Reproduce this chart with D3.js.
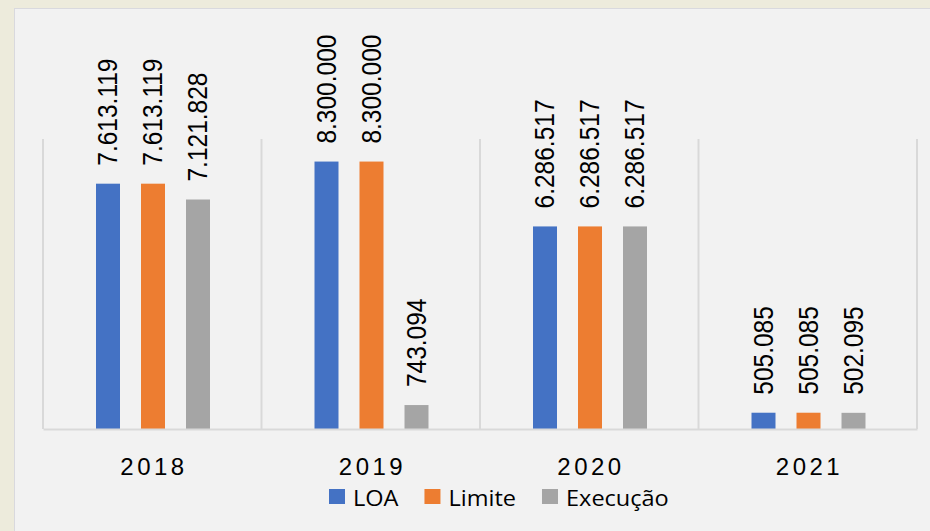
<!DOCTYPE html>
<html><head><meta charset="utf-8">
<script src="https://cdn.jsdelivr.net/npm/d3@7"></script>
<style>
html,body{margin:0;padding:0;background:#EDEBDC;}
svg{display:block;}
</style></head>
<body>
<svg id="chart" width="930" height="531"></svg>
<script>
const years = ["2018", "2019", "2020", "2021"];
const seriesNames = ["LOA", "Limite", "Execução"];
const loa = [7613119, 8300000, 6286517, 505085];
const limite = [7613119, 8300000, 6286517, 505085];
const execucao = [7121828, 743094, 6286517, 502095];
const colors = ["#4472C4", "#ED7D31", "#A5A5A5"];
const yMax = 9000000;

const seriesValues = [loa, limite, execucao];
const data = [];
years.forEach((yr, i) => {
  seriesNames.forEach((s, j) => data.push({year: yr, series: s, value: seriesValues[j][i], color: colors[j]}));
});

const svg = d3.select("#chart");
const fmt = d3.formatLocale({decimal: ",", thousands: ".", grouping: [3], currency: ["R$", ""]}).format(",d");

// panel
svg.append("rect").attr("x", 14.5).attr("y", 8.5).attr("width", 930).attr("height", 540)
  .attr("fill", "#F2F2F2").attr("stroke", "#D9D9DE").attr("stroke-width", 1);

const plot = {left: 43, right: 917, top: 139, bottom: 429};
const x0 = d3.scaleBand().domain(years).range([plot.left, plot.right]).paddingInner(0).paddingOuter(0);
const gw = x0.bandwidth();
const x1 = d3.scaleBand().domain(seriesNames).range([(gw - 114) / 2 + 0.75, (gw + 114) / 2 + 0.75]).paddingInner(21 / 45).paddingOuter(0);
const y = d3.scaleLinear().domain([0, yMax]).range([plot.bottom, plot.top]);

// category separator gridlines
const bounds = years.map(yr => x0(yr)).concat([plot.right]);
svg.append("g").selectAll("line").data(bounds).join("line")
  .attr("x1", d => d).attr("x2", d => d).attr("y1", plot.top).attr("y2", plot.bottom)
  .attr("stroke", "#D9D9D9").attr("stroke-width", 2);

// bars
svg.append("g").selectAll("rect").data(data).join("rect")
  .attr("x", d => x0(d.year) + x1(d.series))
  .attr("width", x1.bandwidth())
  .attr("y", d => y(d.value))
  .attr("height", d => plot.bottom - y(d.value))
  .attr("fill", d => d.color);

// axis baseline
const xAxis = d3.axisBottom(x0).tickSize(0).tickPadding(0);
const ax = svg.append("g").attr("transform", `translate(0,${plot.bottom})`).call(xAxis);
ax.select(".domain").attr("stroke", "#D9D9D9").attr("stroke-width", 2);
ax.selectAll(".tick text")
  .attr("y", 46).attr("dy", 0)
  .attr("font-family", "Liberation Sans, Arial, sans-serif")
  .attr("font-size", 24).attr("fill", "#000")
  .attr("letter-spacing", "3.5px").attr("dx", 1.75);

// data labels
svg.append("g").selectAll("text").data(data).join("text")
  .attr("transform", d => `translate(${x0(d.year) + x1(d.series) + x1.bandwidth() / 2},${y(d.value) - 18}) scale(1.1,1) rotate(-90)`)
  .attr("dy", "0.35em")
  .attr("font-family", "Liberation Sans, Arial, sans-serif")
  .attr("font-size", 24.5).attr("fill", "#000")
  .text(d => fmt(d.value));

// legend
const lg = svg.append("g");
let lx = 329;
const sx = 1.07;
seriesNames.forEach((s, j) => {
  lg.append("rect").attr("x", lx).attr("y", 489).attr("width", 16).attr("height", 15).attr("fill", colors[j]);
  const t = lg.append("text").attr("transform", `translate(${lx + 24},506) scale(${sx},1)`)
    .attr("font-family", "Open Sans, sans-serif")
    .attr("font-size", 22).attr("fill", "#000").text(s);
  lx = lx + 24 + t.node().getComputedTextLength() * sx + 26;
});
</script>
</body></html>
